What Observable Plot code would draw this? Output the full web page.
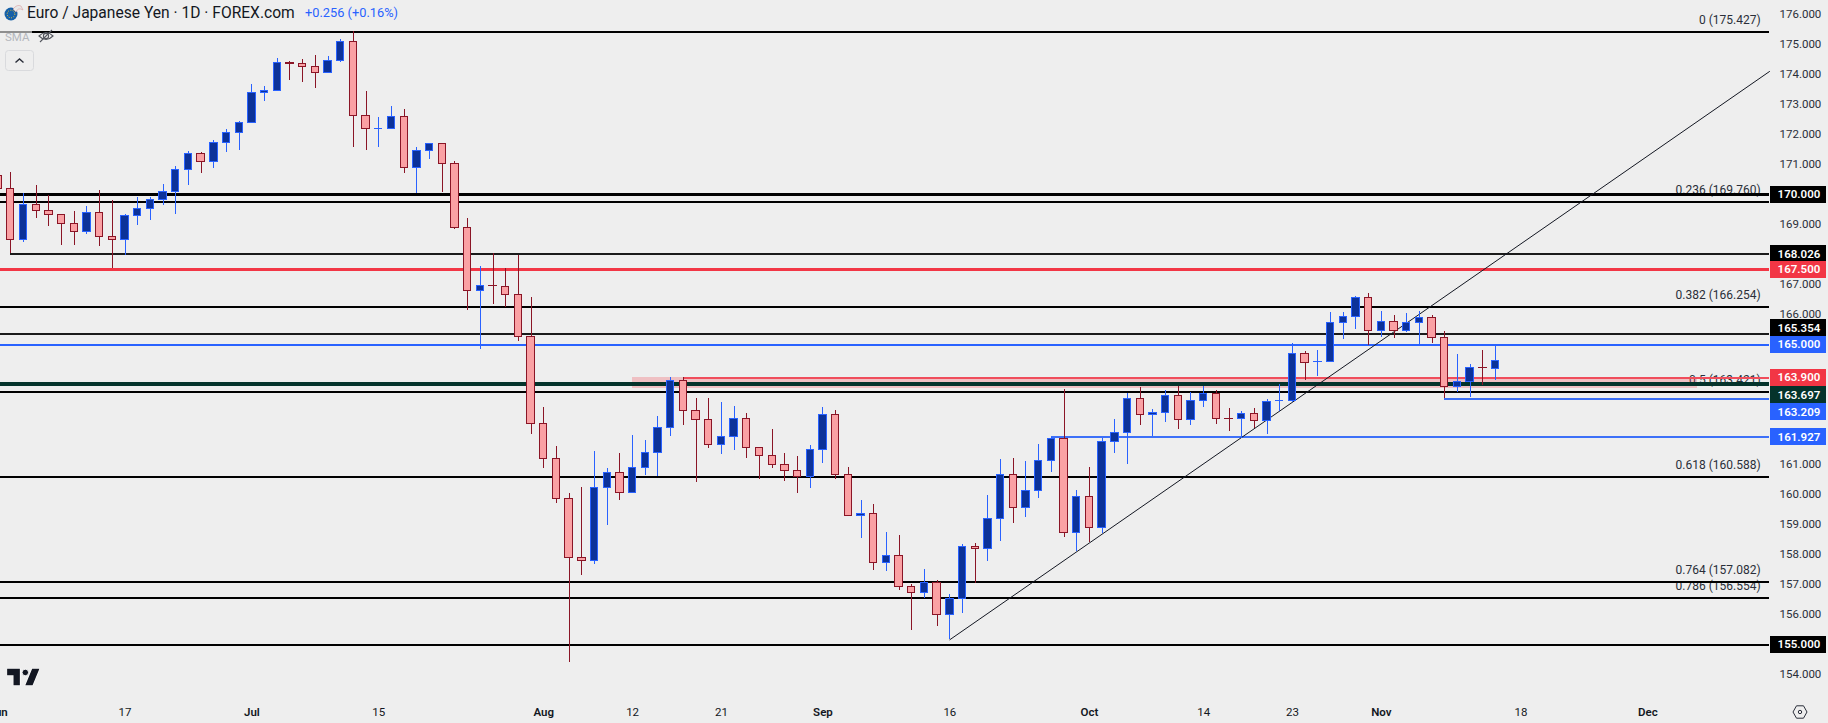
<!DOCTYPE html>
<html>
<head>
<meta charset="utf-8">
<script src="https://cdn.jsdelivr.net/npm/d3@7"></script>
<script src="https://cdn.jsdelivr.net/npm/@observablehq/plot@0.6"></script>
<style>
html,body{margin:0;padding:0;background:#eeeeee;width:1828px;height:723px;overflow:hidden}
#wrap{position:relative;width:1828px;height:723px}
#wrap>svg.plot{display:block}
.ov{position:absolute;white-space:nowrap;font-family:Roboto,sans-serif}
</style>
</head>
<body>
<div id="wrap"></div>
<script>
const opens=[170.64,170.20,168.50,169.67,169.47,169.34,169.04,168.77,169.40,168.60,168.50,169.30,169.54,169.84,170.10,170.84,171.37,171.10,171.74,172.07,172.40,173.40,173.47,174.40,174.37,174.27,174.07,174.47,175.10,172.64,172.19,172.20,172.60,170.90,171.47,171.70,171.04,168.90,166.80,166.97,166.93,166.67,165.27,162.37,161.20,159.87,157.90,157.80,160.23,160.73,160.07,160.90,161.40,162.23,163.80,162.80,162.50,161.67,161.93,162.53,161.57,161.30,161.00,160.80,160.60,161.50,162.67,160.67,159.30,159.37,157.73,157.97,156.93,156.73,157.07,156.00,156.53,158.27,158.20,159.20,160.67,159.57,160.13,161.13,161.87,158.73,159.93,158.90,161.77,162.07,163.20,162.67,162.73,163.30,162.50,163.13,163.37,162.53,162.53,162.70,162.47,163.12,163.13,164.70,164.42,164.43,165.73,165.93,166.57,165.47,165.77,165.47,165.73,165.90,165.23,163.60,163.77,164.23,164.20];
const highs=[171.00,170.74,170.06,170.31,169.97,169.34,169.45,169.61,170.14,169.80,169.34,169.91,169.91,170.35,170.94,171.45,171.40,171.80,172.17,172.44,173.68,173.60,174.54,174.44,174.50,174.64,174.60,175.17,175.43,173.44,172.57,172.94,172.84,171.57,171.70,171.70,171.10,169.20,167.61,168.03,167.53,167.97,166.57,162.90,161.60,160.03,160.23,161.43,160.87,161.37,161.97,161.80,162.60,163.90,163.91,163.20,163.20,163.07,162.93,162.70,161.57,162.17,161.37,161.27,161.63,162.90,162.80,160.90,159.80,159.67,158.73,158.63,157.00,157.50,157.13,156.67,158.34,158.37,159.97,161.17,161.20,161.10,161.67,161.90,163.50,160.13,160.90,161.87,162.50,163.37,163.57,162.83,163.47,163.60,163.40,163.61,163.47,162.87,162.77,162.87,163.17,163.67,165.03,164.77,164.80,166.07,166.07,166.61,166.70,166.10,165.97,166.03,166.10,165.97,165.43,164.67,164.33,164.80,164.97];
const lows=[169.90,168.04,168.42,169.22,168.95,168.32,168.32,168.69,168.29,167.56,167.99,168.98,169.16,169.66,169.36,170.32,170.72,170.89,171.41,171.49,172.40,173.12,173.44,173.82,173.76,173.56,174.07,174.42,171.59,171.49,171.59,172.17,170.72,170.04,171.19,170.09,168.86,166.15,164.85,166.35,166.25,165.12,162.02,160.89,159.72,154.42,157.32,157.69,158.99,159.82,160.07,160.65,160.61,161.95,162.32,160.42,161.55,161.35,161.49,161.22,160.52,160.89,160.45,160.05,160.22,161.05,160.52,159.30,158.55,157.49,157.45,156.82,155.49,156.55,155.62,155.17,156.05,157.05,157.79,158.45,159.05,159.25,159.89,160.75,158.59,158.10,158.40,158.70,161.39,161.02,162.32,161.94,162.42,162.19,162.32,162.92,162.35,162.12,161.87,162.20,162.02,162.79,163.07,163.82,163.93,164.43,165.19,165.52,164.97,165.25,165.22,165.42,164.95,165.03,163.20,163.42,163.23,163.63,163.82];
const closes=[170.20,168.50,169.67,169.47,169.34,169.04,168.77,169.40,168.60,168.50,169.30,169.54,169.84,170.10,170.84,171.37,171.10,171.74,172.07,172.40,173.40,173.47,174.40,174.37,174.27,174.07,174.47,175.10,172.64,172.20,172.20,172.60,170.90,171.47,171.70,171.04,168.90,166.80,166.97,166.96,166.67,165.27,162.37,161.20,159.87,157.90,157.80,160.23,160.73,160.07,160.90,161.40,162.23,163.80,162.80,162.50,161.67,161.93,162.53,161.57,161.30,161.00,160.80,160.60,161.50,162.67,160.67,159.30,159.37,157.73,157.97,156.93,156.73,157.07,156.00,156.53,158.27,158.20,159.20,160.67,159.57,160.13,161.13,161.87,158.73,159.93,158.90,161.77,162.07,163.20,162.67,162.73,163.30,162.50,163.13,163.37,162.53,162.52,162.70,162.47,163.10,163.13,164.70,164.40,164.43,165.73,165.93,166.57,165.47,165.77,165.47,165.73,165.90,165.23,163.60,163.77,164.23,164.22,164.47];

const levelPrices=[175.427,170,169.76,168.026,167.5,166.254,165.354,165,163.421,163.209,161.927,160.588,157.082,156.554,155];
const levelStarts=[0,0,0,1,0,0,0,0,0,114,83,0,0,0,0];
const levelColors=["#000000","#000000","#000000","#1a1a1a","#f23645","#000000","#1a1a1a","#2962ff","#000000","#3a6ef5","#3d70f8","#000000","#000000","#000000","#000000"];
const levelWidths=[2,3,2,2,3,2,2,2,2,2,2,2,2,2,2];

const fibTexts=["0 (175.427)","0.236 (169.760)","0.382 (166.254)","0.5 (163.421)","0.618 (160.588)","0.764 (157.082)","0.786 (156.554)"];
const fibPrices=[175.427,169.76,166.254,163.421,160.588,157.082,156.554];

const tagTexts=["170.000","168.026","167.500","165.354","165.000","163.900","163.697","163.209","161.927","155.000"];
const tagPrices=[170,168.026,167.5,165.563,165,163.9,163.327,162.76,161.927,155];
const tagColors=["#000000","#000000","#f23645","#000000","#2962ff","#f23645","#04332b","#2962ff","#2962ff","#000000"];

const dayTicks=[10,30,50,57,75,95,102,120];
const dayLabels=["17","15","12","21","16","14","23","18"];
const monthTicks=[0,20,43,65,86,109,130];
const monthLabels=["Jun","Jul","Aug","Sep","Oct","Nov","Dec"];
const priceTicks=[176,175,174,173,172,171,169,167,166,161,160,159,158,157,156,154];

const trendIndex=[75,139.59];
const trendPrice=[155.17,174.11];
const zoneIndex=[50,133.9];
const zonePrice=[163.91,163.54];
const redLevelStart=54, redLevel=163.9, greenLevel=163.697;

const xDomain=[0.188,139.59];
const yDomain=[153.177,176.477];

const candles=opens.map((o,i)=>({i,o,h:highs[i],l:lows[i],c:closes[i]}));
const up=candles.filter(d=>d.c>=d.o), down=candles.filter(d=>d.c<d.o);
const half=0.29;
const crisp={shapeRendering:"crispEdges"};

const levelMarks=levelPrices.map((p,n)=>Plot.ruleY([p],{x1:levelStarts[n],x2:xDomain[1],stroke:levelColors[n],strokeWidth:levelWidths[n],...crisp}));
const tags=tagTexts.map((t,n)=>({t,p:tagPrices[n],col:tagColors[n]}));
const tagHalf=8.5/30;
const chart=Plot.plot({
  width:1828,height:723,marginTop:0,marginLeft:0,marginRight:59,marginBottom:24,
  style:{background:"transparent",fontFamily:"Roboto,sans-serif",fontSize:"11.5px",color:"#131722"},
  x:{type:"linear",domain:xDomain,axis:null},
  y:{type:"linear",domain:yDomain,axis:null},
  color:{type:"identity"},
  marks:[
    Plot.text(fibTexts,{x:xDomain[1]-0.7,y:(d,i)=>fibPrices[i],dy:-12,text:d=>d,textAnchor:"end",fill:"#2a2e39",fontSize:12}),
    Plot.rect([0],{x1:zoneIndex[0],x2:zoneIndex[1],y1:zonePrice[0],y2:zonePrice[1],fill:"#f23645",fillOpacity:0.25,...crisp}),
    ...levelMarks,
    Plot.ruleY([redLevel],{x1:redLevelStart,x2:xDomain[1],stroke:"#f04d5b",strokeWidth:2,...crisp}),
    Plot.ruleY([greenLevel],{x1:xDomain[0],x2:xDomain[1],stroke:"#04332b",strokeWidth:4,...crisp}),
    Plot.line(trendIndex.map((x,n)=>({x,y:trendPrice[n]})),{x:"x",y:"y",stroke:"#131722",strokeWidth:1}),
    Plot.ruleX(up,{x:"i",y1:"l",y2:"h",stroke:"#2962ff",strokeWidth:1,clip:true,...crisp}),
    Plot.ruleX(down,{x:"i",y1:"l",y2:"h",stroke:"#8a1526",strokeWidth:1,clip:true,...crisp}),
    Plot.rect(up,{x1:d=>d.i-half,x2:d=>d.i+half,y1:"o",y2:"c",fill:"#0c3299",stroke:"#2962ff",strokeWidth:1,clip:true,...crisp}),
    Plot.rect(down,{x1:d=>d.i-half,x2:d=>d.i+half,y1:"o",y2:"c",fill:"#faa1a4",stroke:"#8a1526",strokeWidth:1,clip:true,...crisp}),
    Plot.rect(tags,{x1:xDomain[1]+0.08,x2:xDomain[1]+4.5,y1:d=>d.p+tagHalf,y2:d=>d.p-tagHalf,fill:"col",rx:1,...crisp}),
    Plot.text(tags,{x:xDomain[1]+2.32,y:"p",text:"t",fill:"#ffffff",fontSize:11.5,fontWeight:600}),
    Plot.axisY({anchor:"right",ticks:priceTicks,tickSize:0,tickPadding:10,tickFormat:d=>d.toFixed(3),textAnchor:"start",fill:"#2a2e39",fontSize:11.5,label:null}),
    Plot.axisX({anchor:"bottom",ticks:dayTicks,tickSize:0,tickPadding:8,tickFormat:d=>dayLabels[dayTicks.indexOf(d)],fill:"#131722",fontSize:11.5,label:null}),
    Plot.axisX({anchor:"bottom",ticks:monthTicks,tickSize:0,tickPadding:8,tickFormat:d=>monthLabels[monthTicks.indexOf(d)],fill:"#131722",fontSize:11.5,fontWeight:600,label:null})
  ]
});
const wrap=document.getElementById("wrap");
wrap.appendChild(chart);
wrap.insertAdjacentHTML("beforeend",`
<div class="ov" style="left:0;top:29px;width:32px;height:4px;background:rgba(238,238,238,.6)"></div>
<svg class="ov" style="left:4px;top:3px" width="20" height="20" viewBox="0 0 20 20">
 <circle cx="7" cy="11" r="6.5" fill="#1560a8"/>
 <circle cx="7" cy="11" r="3.8" fill="none" stroke="#f4c430" stroke-width="1" stroke-dasharray="1 1.4"/>
 <path d="M9 6 Q13 1 17 3 L19 7 Q14 4 12 9Z" fill="#e8e8e8" stroke="#d8a0a0" stroke-width=".6"/>
</svg>
<div class="ov" style="left:27px;top:4px;font-size:15.6px;line-height:18px;color:#131722">Euro / Japanese Yen · 1D · FOREX.com</div>
<div class="ov" style="left:305px;top:5px;font-size:12.8px;line-height:16px;color:#2962ff">+0.256 (+0.16%)</div>
<div class="ov" style="left:5px;top:29px;font-size:11.5px;line-height:16px;color:#b4b7bd">SMA</div>
<svg class="ov" style="left:37px;top:28px" width="18" height="16" viewBox="0 0 18 16" fill="none" stroke="#55585f" stroke-width="1.1">
 <path d="M2 8 Q9 1 16 8 Q9 15 2 8Z"/><circle cx="9" cy="8" r="2.6"/><path d="M3 14 L15 2"/>
</svg>
<svg class="ov" style="left:5px;top:50px" width="30" height="22" viewBox="0 0 30 22" fill="none">
 <rect x="0.5" y="0.5" width="28" height="20" rx="3" stroke="#d9dadd" fill="#eeeeee"/>
 <path d="M10.5 12.5 L14.5 9 L18.5 12.5" stroke="#2a2e39" stroke-width="1.4"/>
</svg>
<svg class="ov" style="left:7px;top:667px" width="33" height="20" viewBox="0 0 36 22">
 <path d="M14 20H7V9H0V2h14v18zM28 20h-8l7.5-18h8L28 20z" fill="#131722" stroke="#ffffff" stroke-width="1.4" paint-order="stroke"/>
 <circle cx="20" cy="6" r="3.6" fill="#131722" stroke="#ffffff" stroke-width="1"/>
</svg>
<svg class="ov" style="left:1792px;top:704px" width="16" height="16" viewBox="0 0 16 16" fill="none" stroke="#2a2e39" stroke-width="1">
 <path d="M4.5 1.8 H11.5 L15 8 L11.5 14.2 H4.5 L1 8Z"/><circle cx="8" cy="8" r="1.7"/>
</svg>`);
</script>
</body>
</html>
